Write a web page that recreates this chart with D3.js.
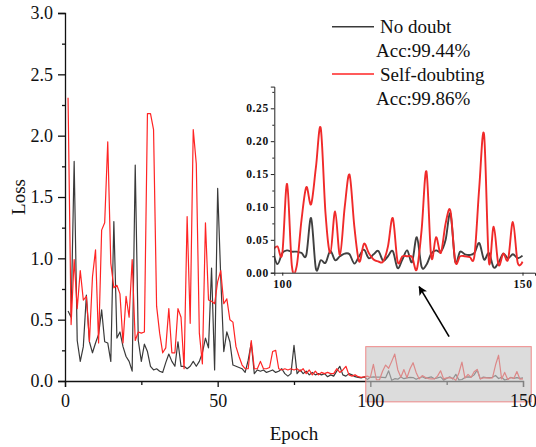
<!DOCTYPE html>
<html lang="en">
<head>
<meta charset="UTF-8">
<title>Loss vs Epoch</title>
<script src="https://cdn.jsdelivr.net/npm/d3@7/dist/d3.min.js"></script>
<style>
    body { margin: 0; background: #fff; }
    svg text { font-family: "Liberation Serif", "Times New Roman", serif; fill: #111; }
</style>
</head>
<body>
<svg id="main" width="536" height="447"></svg>
<script>
    // epoch of each point
    const epochs = d3.range(1, 151);

    // loss per epoch
    const noDoubt = [
        0.57, 0.52, 1.79, 0.33, 0.16, 0.28, 0.70, 0.32, 0.23, 0.31,
        0.38, 0.58, 0.32, 0.31, 0.16, 1.30, 0.35, 0.40, 0.28, 0.20,
        0.16, 0.08, 1.76, 0.33, 0.16, 0.30, 0.24, 0.12, 0.09, 0.10,
        0.08, 0.07, 0.15, 0.22, 0.16, 0.12, 0.32, 0.12, 0.12, 0.10,
        0.12, 0.16, 0.12, 0.16, 0.23, 0.35, 0.27, 0.92, 0.09, 1.57,
        0.85, 0.24, 0.40, 0.32, 0.13, 0.12, 0.11, 0.10, 0.07, 0.17,
        0.31, 0.06, 0.09, 0.08, 0.09, 0.07, 0.08, 0.09, 0.07, 0.08,
        0.10, 0.06, 0.04, 0.06, 0.29, 0.06, 0.09, 0.06, 0.08, 0.05,
        0.07, 0.05, 0.06, 0.05, 0.06, 0.035, 0.05, 0.04, 0.08, 0.12,
        0.05, 0.04, 0.06, 0.05, 0.035, 0.03, 0.025, 0.034, 0.013, 0.03,
        0.034, 0.032, 0.032, 0.030, 0.027, 0.083, 0.006, 0.019, 0.015, 0.033,
        0.019, 0.025, 0.029, 0.028, 0.014, 0.025, 0.035, 0.022, 0.028, 0.033,
        0.018, 0.025, 0.033, 0.007, 0.020, 0.034, 0.016, 0.054, 0.009, 0.012,
        0.029, 0.034, 0.032, 0.050, 0.090, 0.017, 0.032, 0.028, 0.027, 0.030,
        0.045, 0.020, 0.030, 0.008, 0.015, 0.029, 0.022, 0.028, 0.022, 0.026
    ];
    const selfDoubting = [
        2.31, 0.46, 0.99, 0.59, 0.90, 0.66, 0.69, 0.32, 0.85, 1.07,
        0.31, 1.23, 1.29, 1.95, 0.96, 0.76, 0.78, 0.71, 0.31, 0.69,
        0.52, 0.99, 0.33, 0.40, 0.39, 0.40, 2.18, 2.18, 2.05, 0.61,
        0.39, 0.23, 0.27, 0.59, 0.23, 0.23, 0.59, 0.52, 0.10, 1.34,
        0.47, 2.05, 1.77, 0.39, 0.14, 1.29, 0.66, 0.65, 0.63, 0.81,
        0.90, 0.63, 0.67, 0.50, 0.48, 0.28, 0.20, 0.13, 0.10, 0.10,
        0.33, 0.10, 0.10, 0.16, 0.10, 0.10, 0.11, 0.24, 0.25, 0.10,
        0.09, 0.10, 0.09, 0.10, 0.09, 0.10, 0.08, 0.10, 0.06, 0.09,
        0.05, 0.08, 0.05, 0.07, 0.06, 0.07, 0.06, 0.06, 0.10, 0.07,
        0.09, 0.12, 0.05, 0.04, 0.05, 0.035, 0.03, 0.034, 0.04, 0.029,
        0.135, 0.010, 0.010, 0.080, 0.130, 0.104, 0.160, 0.220, 0.090, 0.030,
        0.093, 0.027, 0.100, 0.149, 0.070, 0.017, 0.044, 0.030, 0.020, 0.017,
        0.017, 0.040, 0.083, 0.017, 0.025, 0.025, 0.024, 0.005, 0.065, 0.154,
        0.024, 0.054, 0.030, 0.075, 0.094, 0.017, 0.025, 0.025, 0.024, 0.026,
        0.130, 0.210, 0.017, 0.070, 0.012, 0.029, 0.020, 0.077, 0.015, 0.017
    ];

    const mainXTicks = [0, 50, 100, 150];
    const mainXMinor = [25, 75, 125];
    const mainYTicks = [0, 0.5, 1.0, 1.5, 2.0, 2.5, 3.0];
    const mainYMinor = [0.25, 0.75, 1.25, 1.75, 2.25, 2.75];
    const insetXTicks = [100, 150];
    const insetYTicks = [0, 0.05, 0.10, 0.15, 0.20, 0.25];
    const insetYMinor = [0.025, 0.075, 0.125, 0.175, 0.225, 0.275];
    const seriesNames = ['No doubt', 'Self-doubting'];
    const accLabels = ['Acc:99.44%', 'Acc:99.86%'];
    const lineColors = ['#3a3a3a', '#ff2424'];
    const insetColors = ['#404040', '#f02a2a'];

    const svg = d3.select('svg#main');
    const series = [noDoubt, selfDoubting];

    // ---- main chart ----
    const x = d3.scaleLinear().domain([0, 150]).range([65, 523]);
    const y = d3.scaleLinear().domain([0, 3]).range([381, 13]);

    for (let i = 0; i < series.length; i++) {
        const line = d3.line()
            .x((d, j) => x(epochs[j]))
            .y(d => y(d));
        svg.append('path')
            .datum(series[i])
            .attr('d', line)
            .attr('fill', 'none')
            .attr('stroke', lineColors[i])
            .attr('stroke-width', 1.2)
            .attr('stroke-linejoin', 'round');
    }

    // y axis
    const yAxis = svg.append('g').attr('transform', 'translate(' + x(0) + ',0)');
    yAxis.call(d3.axisLeft(y).tickValues(mainYTicks).tickSize(7).tickPadding(5)
        .tickFormat(d3.format('.1f')));
    yAxis.append('g').call(d3.axisLeft(y).tickValues(mainYMinor).tickSize(3).tickFormat(''))
        .select('.domain').remove();
    yAxis.selectAll('text').attr('font-size', 18).attr('font-family', null);
    yAxis.selectAll('path, line').attr('stroke', '#111').attr('stroke-width', 1.3);

    // x axis lines (under the zoom box)
    const xAxis = svg.append('g').attr('transform', 'translate(0,' + y(0) + ')');
    xAxis.call(d3.axisBottom(x).tickValues(mainXTicks).tickSize(6).tickFormat(''));
    xAxis.append('g').call(d3.axisBottom(x).tickValues(mainXMinor).tickSize(4).tickFormat(''))
        .select('.domain').remove();
    xAxis.selectAll('path, line').attr('stroke', '#111').attr('stroke-width', 1.3);

    // zoom box over epochs 100-150
    svg.append('rect')
        .attr('x', x(98.5)).attr('y', y(0.28))
        .attr('width', x(152.7) - x(98.5))
        .attr('height', y(-0.17) - y(0.28))
        .attr('fill', 'rgba(198,198,198,0.62)')
        .attr('stroke', 'rgba(238,120,120,0.85)')
        .attr('stroke-width', 1);

    // x tick labels on top of the box
    const xLabels = svg.append('g').attr('transform', 'translate(0,' + y(0) + ')');
    xLabels.call(d3.axisBottom(x).tickValues(mainXTicks).tickSize(0).tickPadding(13));
    xLabels.select('.domain').remove();
    xLabels.selectAll('text').attr('font-size', 18).attr('font-family', null);

    // axis titles
    svg.append('text')
        .attr('x', (x(0) + x(150)) / 2).attr('y', 440)
        .attr('text-anchor', 'middle').attr('font-size', 19)
        .text('Epoch');
    svg.append('text')
        .attr('transform', 'translate(25,' + (y(0) + y(3)) / 2 + ') rotate(-90)')
        .attr('text-anchor', 'middle').attr('font-size', 19)
        .text('Loss');

    // ---- legend ----
    const legend = svg.selectAll('.lineLegend').data(seriesNames)
        .enter().append('g')
        .attr('class', 'lineLegend')
        .attr('transform', (d, i) => 'translate(0,' + (i * 47.3) + ')');
    legend.append('line')
        .attr('x1', 332).attr('x2', 374).attr('y1', 26.7).attr('y2', 26.7)
        .attr('stroke', (d, i) => lineColors[i]).attr('stroke-width', 1.4);
    legend.append('text')
        .attr('x', 380).attr('y', 33.3).attr('font-size', 19)
        .text(d => d);
    legend.append('text')
        .attr('x', 376).attr('y', 57.3).attr('font-size', 19)
        .text((d, i) => accLabels[i]);

    // ---- inset: epochs 100-150 ----
    const ix = d3.scaleLinear().domain([98.34, 152.6]).range([274.3, 535]);
    const iy = d3.scaleLinear().domain([0, 0.283]).range([272.7, 86.6]);

    svg.append('clipPath').attr('id', 'insetClip')
        .append('rect')
        .attr('x', ix.range()[0]).attr('y', iy.range()[1])
        .attr('width', ix.range()[1] - ix.range()[0])
        .attr('height', iy.range()[0] - iy.range()[1]);

    const insetStart = epochs.indexOf(98);
    for (let i = 0; i < series.length; i++) {
        const pts = series[i].slice(insetStart).map((v, j) => [epochs[insetStart + j], v]);
        const line = d3.line()
            .curve(d3.curveCardinal)
            .x(d => ix(d[0]))
            .y(d => iy(d[1]));
        svg.append('path')
            .datum(pts)
            .attr('clip-path', 'url(#insetClip)')
            .attr('d', line)
            .attr('fill', 'none')
            .attr('stroke', insetColors[i])
            .attr('stroke-width', 1.9);
    }

    const iyAxis = svg.append('g').attr('transform', 'translate(' + ix.range()[0] + ',0)');
    iyAxis.call(d3.axisLeft(iy).tickValues(insetYTicks).tickSize(3.5).tickPadding(2)
        .tickFormat(d3.format('.2f')));
    iyAxis.append('g').call(d3.axisLeft(iy).tickValues(insetYMinor).tickSize(2).tickFormat(''))
        .select('.domain').remove();

    const ixAxis = svg.append('g').attr('transform', 'translate(0,' + iy(0) + ')');
    ixAxis.call(d3.axisBottom(ix).tickValues(insetXTicks).tickSize(3).tickPadding(4)
        .tickFormat(d3.format('d')));

    [iyAxis, ixAxis].forEach(g => {
        g.selectAll('text').attr('font-size', 11.5).attr('font-weight', 'bold')
            .attr('font-family', null).attr('letter-spacing', 0.6);
        g.selectAll('path, line').attr('stroke', '#222').attr('stroke-width', 1);
    });

    // ---- arrow from zoom box to inset ----
    svg.append('defs').append('marker')
        .attr('id', 'arrowHead')
        .attr('viewBox', '0 0 10 10')
        .attr('refX', 9).attr('refY', 5)
        .attr('markerUnits', 'userSpaceOnUse')
        .attr('markerWidth', 11).attr('markerHeight', 9)
        .attr('orient', 'auto')
        .append('path').attr('d', 'M0,0 L10,5 L0,10 L2.5,5 z').attr('fill', '#000');

    svg.append('line')
        .attr('x1', x(125.8)).attr('y1', y(0.28) - 10)
        .attr('x2', ix(128.5)).attr('y2', iy(0) + 14)
        .attr('stroke', '#000').attr('stroke-width', 1.6)
        .attr('marker-end', 'url(#arrowHead)');
</script>
</body>
</html>
